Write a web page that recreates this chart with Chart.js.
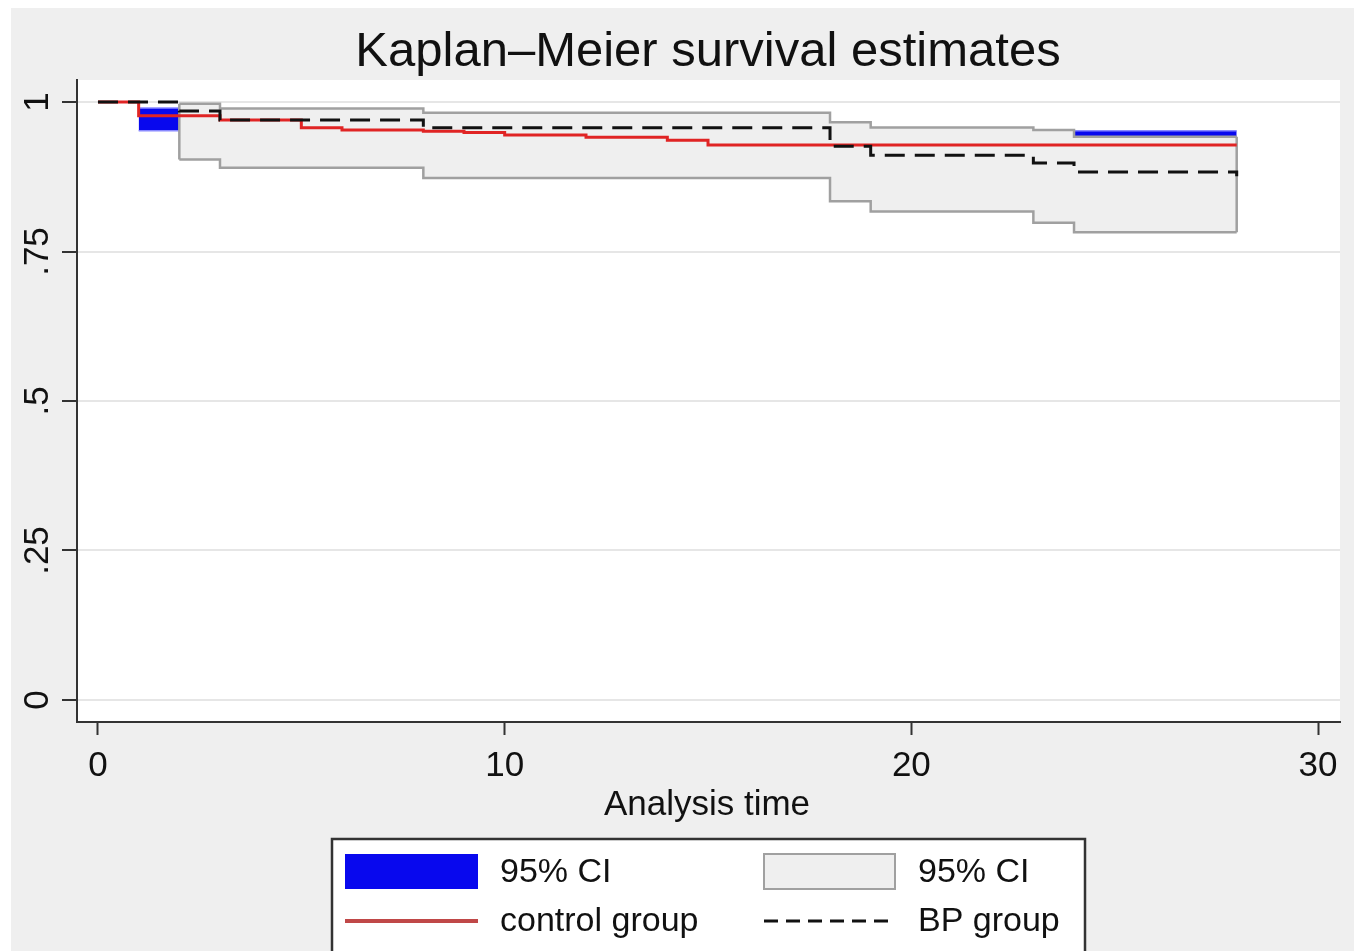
<!DOCTYPE html>
<html>
<head>
<meta charset="utf-8">
<title>Kaplan–Meier survival estimates</title>
<script src="https://cdn.jsdelivr.net/npm/chart.js@4.4.1/dist/chart.umd.min.js"></script>
<style>
html,body{margin:0;padding:0;background:#fff;}
canvas{display:block;}
</style>
</head>
<body>
<canvas id="km" width="1356" height="951"></canvas>
<script>
// axis ticks
const timeTicks = [0, 10, 20, 30];
const survTicks = [0, 0.25, 0.5, 0.75, 1];
const survTickLabels = ['0', '.25', '.5', '.75', '1'];

// control group KM estimate (each value holds until the next time)
const controlTime = [0, 1, 3, 5, 6, 8, 9, 10, 12, 14, 15, 28];
const controlSurv = [1, 0.977, 0.970, 0.957, 0.953, 0.951, 0.949, 0.945, 0.941, 0.936, 0.928, 0.928];

// BP group KM estimate
const bpTime = [0, 2, 3, 8, 18, 19, 23, 24, 28];
const bpSurv = [1, 0.985, 0.970, 0.957, 0.926, 0.911, 0.898, 0.883, 0.876];

// 95% CI control group (blue, mostly hidden under the grey band)
const controlCiTime  = [1, 3, 5, 8, 10, 12, 15, 28];
const controlCiUpper = [0.990, 0.985, 0.975, 0.970, 0.965, 0.960, 0.952, 0.952];
const controlCiLower = [0.952, 0.930, 0.915, 0.910, 0.905, 0.900, 0.895, 0.895];

// 95% CI BP group (grey)
const bpCiTime  = [2, 3, 8, 18, 19, 23, 24, 28];
const bpCiUpper = [0.997, 0.989, 0.982, 0.966, 0.9575, 0.953, 0.942, 0.942];
const bpCiLower = [0.904, 0.890, 0.873, 0.834, 0.817, 0.798, 0.782, 0.782];

const legendLabels = ['95% CI', '95% CI', 'control group', 'BP group'];
const chartTitle = 'Kaplan–Meier survival estimates';
const xTitle = 'Analysis time';

const FONT = "'Liberation Sans', Arial, sans-serif";
const RED = '#e02424';
const BLUE = '#0808ee';
const GREYFILL = '#efefef';
const GREYLINE = '#a0a0a0';

function pts(xs, ys){ return xs.map((x,i) => ({x: x, y: ys[i]})); }

const n = bpCiTime.length - 1;
const bpEdges = [
    {x: bpCiTime[0], y: bpCiUpper[0]}, {x: bpCiTime[0], y: bpCiLower[0]},
    {x: bpCiTime[0], y: null},
    {x: bpCiTime[n], y: bpCiUpper[n]}, {x: bpCiTime[n], y: bpCiLower[n]}
];

const framePlugin = {
    id: 'frame',
    beforeDraw(chart){
        const ctx = chart.ctx, a = chart.chartArea;
        ctx.save();
        ctx.fillStyle = '#fff';
        ctx.fillRect(0, 0, chart.width, chart.height);
        ctx.fillStyle = '#efefef';
        ctx.fillRect(11, 8, 1343, 943);
        ctx.fillStyle = '#fff';
        ctx.fillRect(a.left, a.top, a.right - a.left, a.bottom - a.top);
        ctx.restore();
    },
    afterDraw(chart){
        const ctx = chart.ctx, ys = chart.scales.y;
        ctx.save();
        ctx.fillStyle = '#111';
        // title
        ctx.font = '49px ' + FONT;
        ctx.textAlign = 'center';
        ctx.textBaseline = 'alphabetic';
        ctx.fillText(chartTitle, 708, 66);
        // x axis title
        ctx.font = '35px ' + FONT;
        ctx.fillText(xTitle, 707, 815);
        // y tick labels, rotated
        survTicks.forEach((v, i) => {
            ctx.save();
            ctx.translate(48, ys.getPixelForValue(v));
            ctx.rotate(-Math.PI / 2);
            ctx.fillText(survTickLabels[i], 0, 0);
            ctx.restore();
        });
        // legend
        ctx.fillStyle = '#fff';
        ctx.fillRect(332, 839, 753, 130);
        ctx.strokeStyle = '#333';
        ctx.lineWidth = 2.5;
        ctx.strokeRect(332, 839, 753, 130);

        ctx.fillStyle = BLUE;
        ctx.fillRect(345, 854, 133, 35);
        ctx.fillStyle = GREYFILL;
        ctx.fillRect(764, 854, 131, 35);
        ctx.strokeStyle = GREYLINE;
        ctx.lineWidth = 2;
        ctx.strokeRect(764, 854, 131, 35);

        ctx.strokeStyle = '#c04848';
        ctx.lineWidth = 4;
        ctx.beginPath(); ctx.moveTo(345, 921); ctx.lineTo(478, 921); ctx.stroke();
        ctx.strokeStyle = '#111';
        ctx.lineWidth = 3;
        ctx.setLineDash([14, 8]);
        ctx.beginPath(); ctx.moveTo(764, 921); ctx.lineTo(895, 921); ctx.stroke();
        ctx.setLineDash([]);

        ctx.fillStyle = '#111';
        ctx.font = '34px ' + FONT;
        ctx.textAlign = 'left';
        ctx.textBaseline = 'middle';
        ctx.fillText(legendLabels[0], 500, 873);
        ctx.fillText(legendLabels[1], 918, 873);
        ctx.fillText(legendLabels[2], 500, 922);
        ctx.fillText(legendLabels[3], 918, 922);
        ctx.restore();
    }
};

new Chart(document.getElementById('km'), {
    type: 'line',
    data: {
        datasets: [
            {data: pts(controlCiTime, controlCiUpper), stepped: true, fill: '+1', backgroundColor: BLUE,
             borderColor: '#8a8aff', borderWidth: 1.5, pointRadius: 0, order: 7},
            {data: pts(controlCiTime, controlCiLower), stepped: true, fill: false,
             borderColor: '#8a8aff', borderWidth: 1.5, pointRadius: 0, order: 6},
            {data: pts(bpCiTime, bpCiUpper), stepped: true, fill: '+1', backgroundColor: GREYFILL,
             borderColor: GREYLINE, borderWidth: 2.5, pointRadius: 0, order: 5},
            {data: pts(bpCiTime, bpCiLower), stepped: true, fill: false,
             borderColor: GREYLINE, borderWidth: 2.5, pointRadius: 0, order: 4},
            {data: bpEdges, fill: false, borderColor: GREYLINE, borderWidth: 2.5, pointRadius: 0, order: 3},
            {data: pts(controlTime, controlSurv), stepped: true, fill: false,
             borderColor: RED, borderWidth: 3, pointRadius: 0, order: 2},
            {data: pts(bpTime, bpSurv), stepped: true, fill: false,
             borderColor: '#111', borderWidth: 3, borderDash: [20, 10], pointRadius: 0, order: 1}
        ]
    },
    options: {
        responsive: false,
        animation: false,
        layout: {padding: {top: 80, right: 16, left: 0, bottom: 0}},
        plugins: {legend: {display: false}, title: {display: false}, tooltip: {enabled: false}},
        scales: {
            x: {
                type: 'linear', min: -0.516, max: 30.54,
                afterBuildTicks: s => { s.ticks = timeTicks.map(v => ({value: v})); },
                afterFit: s => { s.height = 229; },
                grid: {drawOnChartArea: false, tickLength: 13, tickColor: '#333', tickWidth: 2},
                border: {color: '#333', width: 2},
                ticks: {font: {size: 35, family: FONT}, color: '#111', padding: 10, maxRotation: 0, autoSkip: false}
            },
            y: {
                type: 'linear', min: -0.0368, max: 1.0368,
                afterBuildTicks: s => { s.ticks = survTicks.map(v => ({value: v})); },
                afterFit: s => { s.width = 77; },
                grid: {color: '#e6e6e6', lineWidth: 2, tickLength: 15, tickColor: '#333', tickWidth: 2},
                border: {color: '#333', width: 2},
                ticks: {display: false}
            }
        }
    },
    plugins: [framePlugin]
});
</script>
</body>
</html>
